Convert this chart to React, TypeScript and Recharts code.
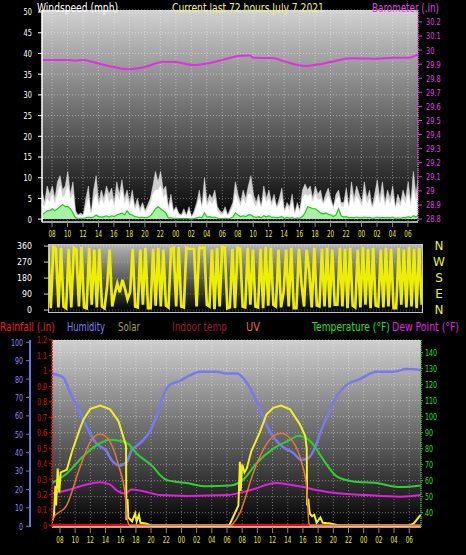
import React from "react";
import {
  ComposedChart,
  LineChart,
  Line,
  Area,
  XAxis,
  YAxis,
  CartesianGrid,
} from "recharts";

const FONT = '"DejaVu Sans", "Liberation Sans", sans-serif';

// wind samples every 20 minutes, starting 06:42 on day 1
const windStart = 6.7;
const windStep = 1 / 3;

const windGust = [
  7, 4, 8, 6, 8, 5, 9, 10.5, 7, 8, 11.5, 6, 9, 2, 1, 1.5, 1, 5,
  8, 1, 7, 10.5, 4, 7, 5, 8, 6, 7.5, 4, 9, 6, 9.5, 5, 7, 4, 7,
  3, 5, 2.5, 4, 2, 3.5, 5, 8, 11.5, 9, 11.5, 7, 8, 3, 6, 2, 3, 1.5,
  1, 2.5, 1, 3, 0.5, 2, 4, 7, 3, 10, 4, 6, 5, 7, 3, 2, 1.5, 3,
  1, 2.5, 4, 9, 6, 4, 7, 5, 8, 10.5, 6, 4, 6, 3, 8, 5, 7, 4,
  6, 3, 5, 7.5, 2, 4, 3, 6, 1.5, 4, 2, 7, 8.5, 7, 8, 5, 8, 6,
  7, 4, 6, 7.5, 5, 3, 6, 7, 4, 4, 7.5, 3, 9, 5, 8, 6, 4, 9,
  5, 7, 3, 6, 9.5, 5, 9, 4, 7, 5, 8, 3, 6, 4, 7, 5, 9, 4,
  11.5, 6, 10.5,
];

const windSpeed = [
  3.5, 3, 5, 4, 6, 3.5, 6, 8, 5, 6, 8, 4.5, 6, 1.2, 0.8, 0.8, 0.8, 3,
  5, 0.8, 4.5, 6, 3, 5, 3.5, 6, 4, 5, 3, 6, 4.5, 7, 3.5, 5, 3, 5,
  2, 3.5, 1.5, 3, 1.5, 2.5, 3.5, 6, 7, 7, 8, 5, 6, 2, 4, 1.5, 2.5, 1,
  0.8, 1.5, 0.8, 2, 0.5, 1.2, 3, 5, 2.5, 6, 3, 4.5, 3.5, 5, 2, 1.2, 1, 2,
  0.8, 1.5, 3, 6, 4.5, 3, 5, 3.5, 6, 6, 4, 3, 4.5, 2.5, 5.5, 4, 5, 3,
  4.5, 2.5, 3.5, 5, 1.5, 3, 2, 4, 1, 3, 1.5, 5, 6, 5.5, 6, 4, 6, 4.5,
  5, 3.5, 4.5, 5.5, 4, 2.5, 4.5, 5.5, 3, 3, 5.5, 2.5, 6, 3.5, 5.5, 4.5, 3, 6,
  3.5, 5, 2.5, 4, 6, 3.5, 6, 3, 5, 3.5, 5.5, 2.5, 4, 3, 5, 3.5, 6, 3,
  7, 4, 6.5,
];

const windAvg = [
  1, 1.5, 2, 2, 2.5, 2, 2.5, 3, 3.5, 3, 3, 2.5, 1.5, 0.3, 0.2, 0.2, 0.2, 0.3,
  0.5, 0.3, 0.5, 1, 0.6, 0.5, 0.6, 0.8, 0.5, 0.8, 0.6, 1, 1.2, 1.5, 1, 2, 1.2, 1,
  0.6, 0.5, 0.3, 0.5, 0.3, 0.4, 0.8, 1.5, 2.5, 3, 2.5, 2, 1.5, 0.3, 0.3, 0.2, 0.2, 0.1,
  0.1, 0.1, 0.1, 0.1, 0, 0.1, 0.3, 0.5, 0.3, 1.5, 0.5, 0.6, 0.4, 0.5, 0.2, 0.1, 0.1, 0.2,
  0.1, 0.2, 0.5, 1.5, 1, 0.6, 0.8, 0.6, 1, 1, 0.6, 0.4, 0.6, 0.3, 0.8, 0.5, 0.8, 0.4,
  0.5, 0.3, 0.4, 0.6, 0.2, 0.4, 0.2, 0.4, 0.1, 0.3, 0.2, 0.6, 1.5, 3, 2.8, 2.5, 2.5, 2,
  1.5, 1.2, 1.5, 1.2, 1, 0.6, 1, 2.5, 0.8, 0.5, 0.6, 0.3, 0.4, 0.3, 0.5, 0.3, 0.3, 0.5,
  0.3, 0.4, 0.2, 0.3, 0.5, 0.3, 0.4, 0.3, 0.4, 0.3, 0.5, 0.2, 0.3, 0.2, 0.4, 0.3, 0.6, 0.3,
  0.8, 0.5, 1,
];

const windDir = [
  350, 10, 355, 345, 15, 350, 20, 10, 345, 15, 350, 340, 20, 355, 15, 10, 350, 30,
  340, 15, 345, 20, 10, 130, 340, 20, 90, 150, 100, 170, 120, 60, 100, 345, 20, 15,
  340, 30, 350, 10, 10, 345, 25, 350, 20, 340, 25, 15, 345, 350, 20, 355, 20, 15,
  350, 345, 345, 345, 20, 350, 350, 350, 30, 20, 340, 5, 350, 20, 355, 350, 10, 15,
  345, 10, 350, 345, 20, 15, 350, 30, 340, 20, 15, 345, 10, 355, 25, 350, 30, 20,
  340, 15, 100, 340, 20, 350, 10, 10, 345, 150, 20, 340, 220, 15, 350, 25, 20, 345,
  20, 350, 15, 340, 30, 30, 350, 20, 345, 10, 350, 25, 15, 340, 15, 355, 30, 345,
  10, 350, 25, 20, 340, 15, 350, 20, 345, 10, 10, 350, 30, 340, 15, 355, 20, 345,
  10, 350, 30,
];

const baroHours = [
  6.7, 8, 10, 11, 12, 14, 16, 17.7, 20, 22.4, 24, 26.3, 28, 30, 32.4, 33.6, 34,
  36.5, 38, 40.8, 42, 44, 46.6, 48.8, 50, 52, 54, 55.3,
];
const baroValues = [
  29.93, 29.93, 29.93, 29.925, 29.93, 29.905, 29.88, 29.864, 29.88, 29.918,
  29.915, 29.894, 29.905, 29.93, 29.96, 29.962, 29.945, 29.944, 29.92, 29.887,
  29.895, 29.915, 29.942, 29.94, 29.938, 29.945, 29.945, 29.97,
];

const humHours = [
  6.9, 8.4, 9.3, 10.2, 11.5, 12.8, 14.1, 14.8, 15.9, 16.8, 17.4, 18.5, 19.9,
  20.9, 21.6, 22.5, 23.8, 25.1, 26.4, 28.6, 30, 31.3, 32.6, 33.9, 35.2, 36.2,
  37.4, 38.7, 39.8, 40.7, 41.6, 42.4, 43.1, 44.5, 45.8, 47.5, 49.7, 51.9, 53.7,
  55.5,
];
const humValues = [
  83, 81, 73, 66, 54, 45, 41, 36, 33, 35, 41, 45, 52, 62, 71, 77, 79, 82, 84,
  84, 83, 83, 78, 68, 55, 48, 43, 40, 36, 37, 43, 52, 59, 71, 77, 80, 84, 84,
  85.5, 85,
];

const tempHours = [
  6.9, 8.9, 11, 12.8, 14.6, 16.3, 17, 18.1, 20.3, 21.3, 22, 24.7, 27.3, 30.4,
  32.1, 33.9, 36.1, 38.3, 39.4, 40.3, 41.2, 42.7, 44.5, 46.6, 49.7, 52.8, 55.5,
];
const tempValues = [
  58.5, 64.5, 75, 82, 85.5, 84.5, 83, 77, 68.5, 63, 60.5, 58.5, 56.5, 57, 60.5,
  71, 80, 85.5, 88, 87, 83.5, 73, 62.5, 59.5, 58.5, 56, 57,
];

const dewHours = [
  6.9, 8.9, 11, 13.3, 14.6, 15.6, 16.6, 17.4, 18.9, 21.2, 24.7, 30, 33, 36.5,
  38.3, 40.1, 41.4, 44, 48.4, 52.8, 55.5,
];
const dewValues = [
  52, 54, 57, 59, 57.5, 53.5, 52, 54.5, 53.5, 51, 50.5, 51, 54, 58.5, 57.5, 56,
  54.5, 52.5, 51, 50, 51,
];

const solarHours = [
  6.9, 7.2, 7.4, 7.5, 7.7, 7.9, 8.1, 8.9, 9.6, 10.6, 11.1, 12, 13.3, 14.6, 15.7,
  16.3, 16.7, 16.75, 16.9, 17, 17.5, 17.9, 18.1, 18.4, 18.6, 19.3, 20, 30.3,
  30.7, 31.5, 31.7, 31.8, 32, 32.3, 32.6, 33.2, 34.3, 35.2, 36.1, 37.1, 38.3,
  39.6, 40.3, 40.5, 40.55, 40.7, 40.9, 41.2, 41.5, 41.8, 42.3, 42.6, 43.6, 44.8,
  54, 54.6, 55.5,
];
const solarValues = [
  20, 70, 300, 150, 430, 250, 400, 420, 560, 726, 800, 880, 905, 876, 788, 676,
  600, 40, 200, 60, 30, 90, 30, 80, 20, 15, 0, 0, 50, 150, 480, 260, 460, 400,
  430, 560, 700, 838, 888, 905, 876, 763, 676, 580, 150, 200, 90, 70, 80, 20,
  60, 20, 15, 0, 0, 15, 80,
];

const uvHours = [
  6.9, 7.1, 8.9, 10.6, 12, 13.3, 14.6, 15.7, 16.6, 16.9, 17.2, 30.6, 30.8, 31.7,
  33.5, 35.2, 37.1, 38.7, 39.8, 40.5, 40.8, 41, 55.5,
];
const uvValues = [
  0.2, 0.45, 1.3, 3.7, 5.4, 5.9, 5.4, 3.9, 1.9, 0.3, 0, 0, 0.1, 0.8, 3.45,
  5.25, 5.95, 5.4, 4.1, 2.4, 0.1, 0, 0,
];

const rainHours = [6.9, 55.5];
const rainValues = [0, 0];

const hourTicks = [
  8, 10, 12, 14, 16, 18, 20, 22, 24, 26, 28, 30, 32, 34, 36, 38, 40, 42, 44, 46,
  48, 50, 52, 54,
];
const windTicks = [0, 5, 10, 15, 20, 25, 30, 35, 40, 45, 50];
const baroTicks = [
  28.8, 28.9, 29, 29.1, 29.2, 29.3, 29.4, 29.5, 29.6, 29.7, 29.8, 29.9, 30,
  30.1, 30.2,
];
const dirTicks = [0, 90, 180, 270, 360];
const dirLetters = ["N", "W", "S", "E", "N"];
const humTicks = [0, 10, 20, 30, 40, 50, 60, 70, 80, 90, 100];
const rainTicks = [0, 0.1, 0.2, 0.3, 0.4, 0.5, 0.6, 0.7, 0.8, 0.9, 1, 1.1, 1.2];
const tempTicks = [40, 50, 60, 70, 80, 90, 100, 110, 120, 130, 140];

const windRows = windGust.map((g, i) => ({
  t: windStart + i * windStep,
  gust: g,
  speed: windSpeed[i],
  avg: windAvg[i],
  dir: windDir[i],
}));

const toRows = (hours: number[], values: number[]) =>
  hours.map((t, i) => ({ t, v: values[i] }));

const baroRows = toRows(baroHours, baroValues);
const humRows = toRows(humHours, humValues);
const tempRows = toRows(tempHours, tempValues);
const dewRows = toRows(dewHours, dewValues);
const solarRows = toRows(solarHours, solarValues);
const uvRows = toRows(uvHours, uvValues);
const rainRows = toRows(rainHours, rainValues);

const hourLabel = (h: number) => String(Math.round(h) % 24).padStart(2, "0");
const plain = (v: number) => String(Number(v.toFixed(1)));

// narrow tick text, squeezed to the width of the condensed font in the original
const narrowTick =
  (color: string, format: (v: number) => string, digit: number, bottom = false) =>
  (props: any) => {
    const { x, y, payload, textAnchor } = props;
    const label = format(payload.value);
    const dots = (label.match(/\./g) || []).length;
    const w = (label.length - dots) * digit + dots * 2;
    return (
      <text
        x={x}
        y={y}
        dy={bottom ? "0.71em" : "0.36em"}
        textAnchor={textAnchor}
        fill={color}
        fontSize={9.5}
        textLength={w}
        lengthAdjust="spacingAndGlyphs"
      >
        {label}
      </text>
    );
  };

let measureCtx: CanvasRenderingContext2D | null = null;
const textWidth = (s: string, size: number) => {
  if (!measureCtx) measureCtx = document.createElement("canvas").getContext("2d");
  if (!measureCtx) return s.length * size * 0.6;
  measureCtx.font = `${size}px "DejaVu Sans"`;
  return measureCtx.measureText(s).width;
};

// text squeezed horizontally to a given width
const Narrow = ({ x, y, w, size, color, text }: any) => (
  <text
    transform={`translate(${x} ${y}) scale(${w / textWidth(text, size)} 1)`}
    fill={color}
    fontSize={size}
  >
    {text}
  </text>
);

const legend = [
  { label: "Rainfall (.in)", color: "#e82020" },
  { label: "Humidity", color: "#8080f0" },
  { label: "Solar", color: "#a0a040" },
  { label: "Indoor temp", color: "#a01830" },
  { label: "UV", color: "#e07030" },
  { label: "Temperature (°F)", color: "#20e020" },
  { label: "Dew Point (°F)", color: "#e020e0" },
];
const legendX = [0, 67, 118, 172, 246, 312, 392];
const legendW = [55, 38, 22, 55, 14, 78, 67];

export default function App() {
  return (
    <div
      style={{
        position: "absolute",
        left: 0,
        top: 0,
        width: 466,
        height: 555,
        background: "#000",
        overflow: "hidden",
        fontFamily: FONT,
      }}
    >
      <div style={{ position: "absolute", left: 0, top: 0 }}>
        <ComposedChart
          width={466}
          height={245}
          data={windRows}
          margin={{ top: 10, right: 0, bottom: 0, left: 0 }}
        >
          <defs>
            <linearGradient id="bgWind" x1="0" y1="0" x2="0" y2="1">
              <stop offset="0%" stopColor="#d2d2d2" />
              <stop offset="100%" stopColor="#000000" />
            </linearGradient>
          </defs>
          <CartesianGrid
            fill="url(#bgWind)"
            fillOpacity={1}
            stroke="#ffffff"
            strokeOpacity={0.4}
            strokeDasharray="1 2"
          />
          <XAxis
            dataKey="t"
            type="number"
            domain={[6.7, 55.3]}
            ticks={hourTicks}
            allowDataOverflow
            interval={0}
            height={23}
            tickSize={5}
            tickMargin={3}
            tick={narrowTick("#e8e830", hourLabel, 3.6, true)}
            tickLine={{ stroke: "#888888" }}
            axisLine={{ stroke: "#d8d8d8", strokeWidth: 1.5 }}
          />
          <YAxis
            type="number"
            domain={[-0.7, 50.5]}
            ticks={windTicks}
            allowDataOverflow
            interval={0}
            width={42}
            tickSize={4}
            tickMargin={6}
            tick={narrowTick("#ffffff", plain, 4.2)}
            tickLine={{ stroke: "#ffffff" }}
            axisLine={{ stroke: "#ffffff", strokeWidth: 1.5 }}
          />
          <YAxis
            yAxisId="baro"
            orientation="right"
            type="number"
            domain={[28.779, 30.285]}
            ticks={baroTicks}
            allowDataOverflow
            interval={0}
            width={48}
            tickSize={4}
            tickMargin={4}
            tick={narrowTick("#e040e0", plain, 4.2)}
            tickLine={{ stroke: "#e040e0" }}
            axisLine={{ stroke: "#e040e0", strokeWidth: 1.5, strokeDasharray: "1 1" }}
          />
          <Area
            dataKey="gust"
            type="linear"
            stroke="#dddddd"
            strokeWidth={0.5}
            fill="#cfcfcf"
            fillOpacity={1}
            dot={false}
            activeDot={false}
            isAnimationActive={false}
          />
          <Area
            dataKey="speed"
            type="linear"
            stroke="#ffffff"
            strokeWidth={0.5}
            fill="#ffffff"
            fillOpacity={1}
            dot={false}
            activeDot={false}
            isAnimationActive={false}
          />
          <Area
            dataKey="avg"
            type="linear"
            stroke="#18d018"
            strokeWidth={1.2}
            fill="#a8f0a8"
            fillOpacity={1}
            dot={false}
            activeDot={false}
            isAnimationActive={false}
          />
          <Line
            yAxisId="baro"
            data={baroRows}
            dataKey="v"
            type="monotone"
            stroke="#e030e0"
            strokeWidth={2}
            dot={false}
            activeDot={false}
            isAnimationActive={false}
          />
        </ComposedChart>
      </div>

      <div style={{ position: "absolute", left: 0, top: 240 }}>
        <LineChart
          width={466}
          height={75}
          data={windRows}
          margin={{ top: 5, right: 44, bottom: 3, left: 0 }}
        >
          <defs>
            <linearGradient id="bgDir" x1="0" y1="0" x2="0" y2="1">
              <stop offset="0%" stopColor="#b4b4b4" />
              <stop offset="100%" stopColor="#000000" />
            </linearGradient>
          </defs>
          <CartesianGrid
            fill="url(#bgDir)"
            fillOpacity={1}
            vertical={false}
            stroke="#ffffff"
            strokeOpacity={0.3}
            strokeDasharray="1 2"
          />
          <XAxis dataKey="t" type="number" domain={[6.8, 55.4]} allowDataOverflow hide />
          <YAxis
            type="number"
            domain={[-11, 366]}
            ticks={dirTicks}
            allowDataOverflow
            interval={0}
            width={49}
            tickSize={5}
            tickMargin={12}
            tick={narrowTick("#ffffff", plain, 5)}
            tickLine={{ stroke: "#c8c8c8" }}
            axisLine={false}
          />
          <Line
            dataKey="dir"
            type="linear"
            stroke="#eeee00"
            strokeWidth={2.7}
            dot={false}
            activeDot={false}
            isAnimationActive={false}
          />
        </LineChart>
      </div>
      <div
        style={{
          position: "absolute",
          left: 48,
          top: 244,
          width: 373,
          height: 67,
          border: "1px solid #c0c0c0",
          pointerEvents: "none",
        }}
      />

      <div style={{ position: "absolute", left: 0, top: 330 }}>
        <ComposedChart
          width={466}
          height={225}
          margin={{ top: 10, right: 0, bottom: 0, left: 0 }}
        >
          <defs>
            <linearGradient id="bgMain" x1="0" y1="0" x2="0" y2="1">
              <stop offset="0%" stopColor="#d0d0d0" />
              <stop offset="100%" stopColor="#000000" />
            </linearGradient>
          </defs>
          <CartesianGrid
            fill="url(#bgMain)"
            fillOpacity={1}
            stroke="#ffffff"
            strokeOpacity={0.4}
            strokeDasharray="1 2"
          />
          <XAxis
            dataKey="t"
            type="number"
            domain={[6.95, 55.55]}
            ticks={hourTicks}
            allowDataOverflow
            interval={0}
            height={28}
            tickSize={6}
            tickMargin={3}
            tick={narrowTick("#e8e830", hourLabel, 3.6, true)}
            tickLine={{ stroke: "#888888" }}
            axisLine={{ stroke: "#d8d8d8", strokeWidth: 1.5 }}
          />
          <YAxis
            yAxisId="rain"
            orientation="left"
            type="number"
            domain={[-0.01, 1.2]}
            ticks={rainTicks}
            allowDataOverflow
            interval={0}
            width={22}
            tickSize={3}
            tickMargin={2}
            tick={narrowTick("#e00000", plain, 4)}
            tickLine={{ stroke: "#e00000" }}
            axisLine={{ stroke: "#e00000", strokeWidth: 1.5, strokeDasharray: "2 1" }}
          />
          <YAxis
            yAxisId="rh"
            orientation="left"
            type="number"
            domain={[-0.4, 101.25]}
            ticks={humTicks}
            allowDataOverflow
            interval={0}
            width={30}
            tickSize={4}
            tickMargin={3}
            tick={narrowTick("#8c8cf0", plain, 4)}
            tickLine={{ stroke: "#7070e8" }}
            axisLine={{ stroke: "#7070e8", strokeWidth: 2 }}
          />
          <YAxis
            orientation="right"
            type="number"
            domain={[31.06, 147.9]}
            ticks={tempTicks}
            allowDataOverflow
            interval={0}
            width={45}
            tickSize={2}
            tickMargin={2}
            tick={narrowTick("#20e020", plain, 4)}
            tickLine={{ stroke: "#20c020" }}
            axisLine={{ stroke: "#20c020", strokeWidth: 1.5, strokeDasharray: "1 1" }}
          />
          <YAxis yAxisId="solar" type="number" domain={[-12, 1400]} hide />
          <YAxis yAxisId="uv" type="number" domain={[-0.12, 12]} hide />
          <Line
            yAxisId="rain"
            data={rainRows}
            dataKey="v"
            stroke="#ff0000"
            strokeWidth={3}
            dot={false}
            activeDot={false}
            isAnimationActive={false}
          />
          <Line
            yAxisId="rh"
            data={humRows}
            dataKey="v"
            type="monotone"
            stroke="#7878f0"
            strokeWidth={2.5}
            dot={false}
            activeDot={false}
            isAnimationActive={false}
          />
          <Line
            data={dewRows}
            dataKey="v"
            type="monotone"
            stroke="#e020e0"
            strokeWidth={2}
            dot={false}
            activeDot={false}
            isAnimationActive={false}
          />
          <Line
            data={tempRows}
            dataKey="v"
            type="monotone"
            stroke="#30d030"
            strokeWidth={2}
            dot={false}
            activeDot={false}
            isAnimationActive={false}
          />
          <Line
            yAxisId="solar"
            data={solarRows}
            dataKey="v"
            type="linear"
            stroke="#f0f020"
            strokeWidth={2}
            dot={false}
            activeDot={false}
            isAnimationActive={false}
          />
          <Line
            yAxisId="uv"
            data={uvRows}
            dataKey="v"
            type="monotone"
            stroke="#e87830"
            strokeWidth={1.5}
            dot={false}
            activeDot={false}
            isAnimationActive={false}
          />
        </ComposedChart>
      </div>

      <svg
        width={466}
        height={555}
        style={{ position: "absolute", left: 0, top: 0, pointerEvents: "none" }}
      >
        <Narrow x={37} y={11.5} w={81} size={12} color="#ffffff" text="Windspeed (mph)" />
        <Narrow
          x={172}
          y={11.5}
          w={152}
          size={12}
          color="#f0f070"
          text="Current last 72 hours July 7 2021"
        />
        <Narrow x={372} y={11.5} w={67} size={12} color="#e040e0" text="Barometer (.in)" />
        {dirLetters.map((d, i) => (
          <text key={i} x={439} y={250 + i * 16} fill="#f0f000" fontSize={12} textAnchor="middle">
            {d}
          </text>
        ))}
        {legend.map((l, i) => (
          <Narrow
            key={l.label}
            x={legendX[i]}
            y={331}
            w={legendW[i]}
            size={12}
            color={l.color}
            text={l.label}
          />
        ))}
      </svg>
    </div>
  );
}
